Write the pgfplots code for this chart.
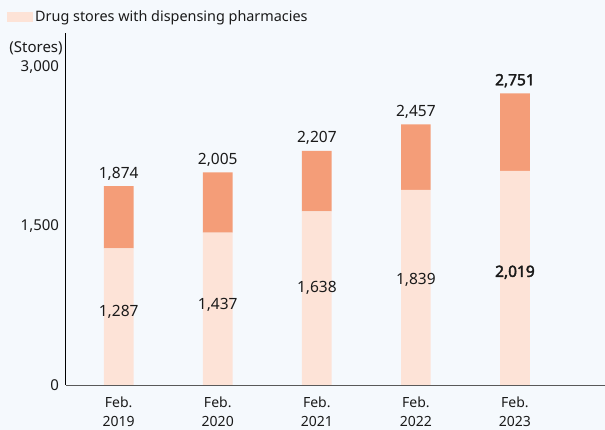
\documentclass[border=0pt]{standalone}
\usepackage{fontspec}
\setmainfont{Noto Sans}
\newfontfamily\bnum{Noto Sans}[FakeBold=2.5]
\usepackage{pgfplots}
\pgfplotsset{compat=1.18}
\definecolor{bgc}{HTML}{F5F9FD}
\definecolor{lowc}{HTML}{FDE3D7}
\definecolor{topc}{HTML}{F49D78}
\definecolor{txt}{HTML}{1A1A1A}
\tikzset{
  totlbl/.style={anchor=base, font=\fontsize{15.5}{17}\selectfont, text=txt, inner sep=0pt, yshift=8pt},
  inlbl/.style={anchor=base, font=\fontsize{15.5}{17}\selectfont, text=txt, inner sep=0pt},
}

\begin{document}
\begin{tikzpicture}[x=1pt,y=1pt]
\fill[bgc] (-65.6,-45) rectangle (539.4,385);
\begin{axis}[
  at={(0,0)}, anchor=south west, scale only axis,
  width=539.4pt, height=352pt,
  ybar stacked, bar width=0.30,
  xmin=-0.536, xmax=4.907, ymin=0, ymax=3320,
  xtick={0,1,2,3,4},
  xticklabels={{Feb.\\2019},{Feb.\\2020},{Feb.\\2021},{Feb.\\2022},{Feb.\\2023}},
  x tick label style={align=center, font=\fontsize{14}{19}\selectfont, text=txt, yshift=-8pt},
  ytick={0,1500,3000},
  yticklabel style={font=\fontsize{15}{17}\selectfont, text=txt, xshift=-3pt},
  /pgf/number format/1000 sep={,},
  /pgf/number format/assume math mode=true,
  axis lines*=left,
  x axis line style={draw=black!65},
  y axis line style={draw=black},
  major tick length=0pt,
  clip=false,
  legend style={at={(axis description cs:-0.1086,1.045)}, anchor=west,
    draw=none, fill=none, font=\fontsize{14.4}{16}\selectfont, text=txt,
    inner sep=0pt},
  legend image code/.code={\fill[lowc] (0pt,-5pt) rectangle (26pt,5pt);},
]
\addplot[fill=lowc, draw=none] coordinates {(0,1287) (1,1437) (2,1638) (3,1839) (4,2019)};
\addlegendentry{Drug stores with dispensing pharmacies}
% stores without dispensing (total minus the lower segment)
\addplot[fill=topc, draw=none, forget plot] coordinates {(0,587) (1,568) (2,569) (3,618) (4,732)};

\coordinate (st) at (axis description cs:-0.005,0.956);
\coordinate (t0) at (axis cs:0,1874);
\coordinate (t1) at (axis cs:1,2005);
\coordinate (t2) at (axis cs:2,2207);
\coordinate (t3) at (axis cs:3,2457);
\coordinate (t4) at (axis cs:4,2751);
\coordinate (b0) at (axis cs:0,641);
\coordinate (b1) at (axis cs:1,707);
\coordinate (b2) at (axis cs:2,868);
\coordinate (b3) at (axis cs:3,943);
\coordinate (b4) at (axis cs:4,1019);
\end{axis}

\node[anchor=east, font=\fontsize{15}{17}\selectfont, text=txt, inner sep=0pt] at (st) {(Stores)};
% totals above the bars
\node[totlbl] at (t0) {1,874};
\node[totlbl] at (t1) {2,005};
\node[totlbl] at (t2) {2,207};
\node[totlbl] at (t3) {2,457};
\node[totlbl, font=\fontsize{15.5}{17}\bnum] at (t4) {2,751};
% dispensing-pharmacy counts inside the lower segments
\node[inlbl] at (b0) {1,287};
\node[inlbl] at (b1) {1,437};
\node[inlbl] at (b2) {1,638};
\node[inlbl] at (b3) {1,839};
\node[inlbl, font=\fontsize{15.5}{17}\bnum] at (b4) {2,019};
\end{tikzpicture}
\end{document}
